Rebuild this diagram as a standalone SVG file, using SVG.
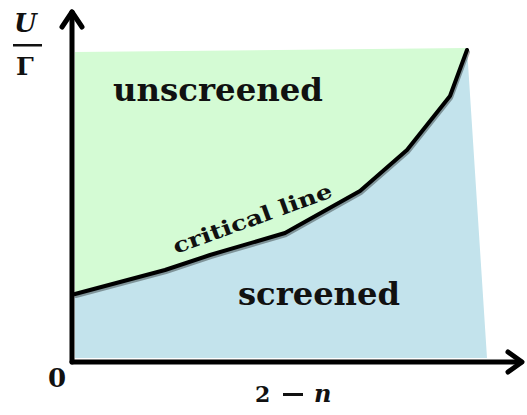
<svg xmlns="http://www.w3.org/2000/svg" width="527" height="415" viewBox="0 0 527 415">
<style>
.ax{fill:none;stroke:#000;stroke-width:5;stroke-linecap:round;stroke-linejoin:round}
.lbl{font-family:"DejaVu Serif","Liberation Serif",serif;font-weight:bold;fill:#111}
.crit{fill:none;stroke:#000;stroke-width:4;stroke-linejoin:round;stroke-linecap:round}
</style>
<rect width="527" height="415" fill="#fff"/>
<g id="unscreened-region">
<polygon points="75,52 466,48 450,96 407,150 360,191 285,233 210,255 165,270 75,294" fill="#d4fbd4"/>
</g>
<g id="screened-region">
<polygon points="75,294 165,270 210,255 285,233 360,191 407,150 450,96 467,48 487,358 75,358" fill="#c3e3ec"/>
</g>
<g id="connectors">
<path class="crit" d="M75,294 L165,270 L210,255 L285,233 L360,191 L407,150 L450,96 L467,50" stroke="#777" stroke-width="5" opacity="0.35" transform="translate(1,2)"/>
<path class="crit" d="M75,294 L165,270 L210,255 L285,233 L360,191 L407,150 L450,96 L467,50"/>
<line class="ax" x1="72" y1="362" x2="72" y2="12"/>
<polyline class="ax" points="62,27 72,12 82,27"/>
<line class="ax" x1="72" y1="362" x2="521" y2="362"/>
<polyline class="ax" points="508,352 522,362 508,372"/>
</g>
<g id="labels">
<text class="lbl" x="113" y="101" font-size="32" textLength="210" lengthAdjust="spacingAndGlyphs">unscreened</text>
<text class="lbl" x="238" y="305" font-size="32" textLength="162" lengthAdjust="spacingAndGlyphs">screened</text>
<text class="lbl" font-size="21" transform="translate(176,254) rotate(-20)" textLength="168" lengthAdjust="spacingAndGlyphs" style="font-weight:600">critical line</text>
<text class="lbl" x="48" y="387" font-size="26">0</text>
<text class="lbl" x="255" y="402" font-size="22">2</text>
<rect x="283" y="393" width="20" height="3" fill="#111"/>
<text class="lbl" x="314" y="402" font-size="24" font-style="italic">n</text>
<text class="lbl" x="14" y="32" font-size="26" font-style="italic">U</text>
<rect x="13" y="44" width="29" height="2.5" fill="#111"/>
<text class="lbl" x="16" y="75" font-size="25">Γ</text>
</g>
</svg>
